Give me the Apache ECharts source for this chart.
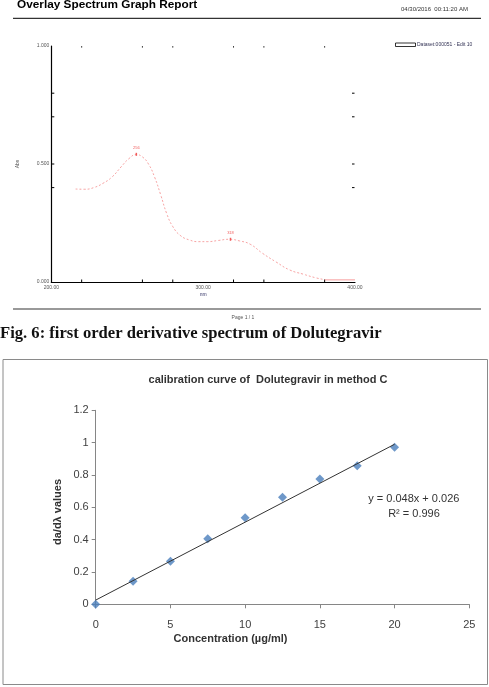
<!DOCTYPE html>
<html>
<head>
<meta charset="utf-8">
<script src="https://cdn.jsdelivr.net/npm/echarts@6/dist/echarts.min.js"></script>
<style>
html, body { margin: 0; padding: 0; background: #fff; }
#main { width: 489px; height: 687px; }
</style>
</head>
<body>
<div id="main"></div>
<script>
// top panel: overlay spectrum
const specNm = [216, 222, 228, 234, 240, 246, 251, 256, 260, 264, 268, 272, 276, 280, 285, 291, 297, 303, 310, 317, 324, 331, 339, 348, 357, 366, 374, 380];
const specAbs = [0.394, 0.393, 0.400, 0.418, 0.445, 0.488, 0.522, 0.540, 0.530, 0.500, 0.445, 0.370, 0.290, 0.235, 0.197, 0.178, 0.171, 0.171, 0.176, 0.181, 0.174, 0.160, 0.122, 0.085, 0.051, 0.033, 0.018, 0.010];
const specTailNm = [380, 400];
const specTailAbs = [0.009, 0.009];
const peakNm = [256, 318];
const peakAbs = [0.541, 0.181];
const specXTicks = [220, 260, 280, 320, 340, 380];
const specYTicks = [0.4, 0.5, 0.7, 0.8];

// bottom panel: calibration curve
const concentration = [0, 2.5, 5, 7.5, 10, 12.5, 15, 17.5, 20];
const response = [0, 0.142, 0.266, 0.406, 0.536, 0.662, 0.775, 0.857, 0.971];
const trendX = [0, 20];
const trendY = [0.026, 0.99];

const chart = echarts.init(document.getElementById('main'));

const small = { fontFamily: 'Liberation Sans', fontSize: 5, color: '#555' };

const option = {
  animation: false,
  backgroundColor: '#fff',
  grid: [
    { left: 51.3, top: 46, width: 303.7, height: 236 },
    { left: 95.7, top: 410.3, width: 373.6, height: 194 }
  ],
  xAxis: [
    {
      gridIndex: 0, type: 'value', min: 200, max: 400, interval: 100,
      name: 'nm', nameLocation: 'middle', nameGap: 10,
      nameTextStyle: { fontFamily: 'Liberation Sans', fontSize: 5, color: '#336' },
      axisLine: { lineStyle: { color: '#000', width: 1.2 } },
      axisTick: { show: false },
      splitLine: { show: false },
      axisLabel: { margin: 3, ...small, formatter: v => v.toFixed(2) }
    },
    {
      gridIndex: 1, type: 'value', min: 0, max: 25, interval: 5,
      axisLine: { lineStyle: { color: '#868686' } },
      axisTick: { length: 4, lineStyle: { color: '#868686' } },
      splitLine: { show: false },
      axisLabel: { margin: 15, fontFamily: 'Liberation Sans', fontSize: 11, color: '#404040' }
    }
  ],
  yAxis: [
    {
      gridIndex: 0, type: 'value', min: 0, max: 1, interval: 0.5,
      name: 'Abs', nameLocation: 'middle', nameGap: 31, nameRotate: 90,
      nameTextStyle: { fontFamily: 'Liberation Sans', fontSize: 5, color: '#555' },
      axisLine: { show: true, lineStyle: { color: '#000', width: 1.2 } },
      axisTick: { show: false },
      splitLine: { show: false },
      axisLabel: { margin: 2, ...small, formatter: v => v.toFixed(3) }
    },
    {
      gridIndex: 1, type: 'value', min: 0, max: 1.2, interval: 0.2,
      axisLine: { show: true, lineStyle: { color: '#868686' } },
      axisTick: { show: true, length: 4, lineStyle: { color: '#868686' } },
      splitLine: { show: false },
      axisLabel: { margin: 7, fontFamily: 'Liberation Sans', fontSize: 11, color: '#404040',
        formatter: v => String(Math.round(v * 10) / 10) }
    }
  ],
  series: [
    {
      type: 'line', xAxisIndex: 0, yAxisIndex: 0, smooth: true, symbol: 'none',
      data: specNm.map((x, i) => [x, specAbs[i]]),
      lineStyle: { color: 'rgba(240,90,90,0.55)', width: 1, type: [2, 2] }
    },
    {
      type: 'line', xAxisIndex: 0, yAxisIndex: 0, symbol: 'none',
      data: specTailNm.map((x, i) => [x, specTailAbs[i]]),
      lineStyle: { color: 'rgba(240,90,90,0.6)', width: 1 }
    },
    {
      type: 'scatter', xAxisIndex: 0, yAxisIndex: 0,
      symbol: 'rect', symbolSize: [1.5, 3],
      itemStyle: { color: '#e33' },
      data: peakNm.map((x, i) => [x, peakAbs[i]]),
      label: { show: true, position: 'top', distance: 3, fontSize: 4, color: '#e33',
        fontFamily: 'Liberation Sans', formatter: p => String(p.value[0]) }
    },
    {
      // small ticks of the report plot frame
      type: 'custom', xAxisIndex: 0, yAxisIndex: 0, silent: true,
      data: specXTicks.map(v => [v, 0]),
      renderItem: (params, api) => {
        const b = api.coord([api.value(0), 0]);
        const t = api.coord([api.value(0), 1]);
        return { type: 'group', children: [
          { type: 'line', shape: { x1: b[0], y1: b[1], x2: b[0], y2: b[1] - 2.5 }, style: { stroke: '#000', lineWidth: 1 } },
          { type: 'rect', shape: { x: t[0] - 0.5, y: t[1] + 0.3, width: 1, height: 1.3 }, style: { fill: '#000' } }
        ] };
      }
    },
    {
      type: 'custom', xAxisIndex: 0, yAxisIndex: 0, silent: true,
      data: specYTicks.map(v => [200, v]),
      renderItem: (params, api) => {
        const l = api.coord([200, api.value(1)]);
        const r = api.coord([400, api.value(1)]);
        return { type: 'group', children: [
          { type: 'line', shape: { x1: l[0], y1: l[1], x2: l[0] + 3, y2: l[1] }, style: { stroke: '#000', lineWidth: 1 } },
          { type: 'line', shape: { x1: r[0] - 3, y1: r[1], x2: r[0] - 0.5, y2: r[1] }, style: { stroke: '#000', lineWidth: 1 } }
        ] };
      }
    },
    {
      type: 'line', xAxisIndex: 1, yAxisIndex: 1, symbol: 'none',
      data: trendX.map((x, i) => [x, trendY[i]]),
      lineStyle: { color: '#333', width: 1 }
    },
    {
      type: 'scatter', xAxisIndex: 1, yAxisIndex: 1,
      symbol: 'diamond', symbolSize: 9,
      itemStyle: { color: '#4a7ebb' },
      data: concentration.map((x, i) => [x, response[i]])
    }
  ],
  graphic: [
    { type: 'text', left: 17, top: -1.5, style: { text: 'Overlay Spectrum Graph Report', font: 'bold 11.8px "Liberation Sans"', fill: '#000' } },
    { type: 'text', left: 401, top: 6, style: { text: '04/30/2016  00:11:20 AM', font: '6px "Liberation Sans"', fill: '#333' } },
    { type: 'line', shape: { x1: 13, y1: 18.3, x2: 481, y2: 18.3 }, style: { stroke: '#000', lineWidth: 1 } },
    { type: 'rect', shape: { x: 395.5, y: 43, width: 20, height: 3.5 }, style: { fill: '#fff', stroke: '#000', lineWidth: 0.8 } },
    { type: 'text', left: 417, top: 42, style: { text: 'Dataset:000051 - Edit 10', font: '5px "Liberation Sans"', fill: '#335' } },
    { type: 'line', shape: { x1: 13, y1: 309, x2: 481, y2: 309 }, style: { stroke: '#777', lineWidth: 1.5 } },
    { type: 'text', x: 243, y: 317.5, style: { text: 'Page 1 / 1', font: '5px "Liberation Sans"', fill: '#555', align: 'center', verticalAlign: 'middle' } },
    { type: 'text', x: 0, y: 334, style: { text: 'Fig. 6: first order derivative spectrum of Dolutegravir', font: 'bold 16.6px "Liberation Serif"', fill: '#111', verticalAlign: 'middle' } },
    { type: 'rect', shape: { x: 3, y: 359.5, width: 484.5, height: 325 }, style: { fill: 'none', stroke: '#8a8a8a', lineWidth: 1 } },
    { type: 'text', x: 268, y: 380, style: { text: 'calibration curve of  Dolutegravir in method C', font: 'bold 11px "Liberation Sans"', fill: '#333', align: 'center', verticalAlign: 'middle' } },
    { type: 'text', x: 413.8, y: 499.3, style: { text: 'y = 0.048x + 0.026', font: '11px "Liberation Sans"', fill: '#333', align: 'center', verticalAlign: 'middle' } },
    { type: 'text', x: 414, y: 514.3, style: { text: 'R² = 0.996', font: '11px "Liberation Sans"', fill: '#333', align: 'center', verticalAlign: 'middle' } },
    { type: 'text', x: 230.5, y: 639, style: { text: 'Concentration (µg/ml)', font: 'bold 11px "Liberation Sans"', fill: '#333', align: 'center', verticalAlign: 'middle' } },
    { type: 'text', x: 58, y: 512, rotation: Math.PI / 2, style: { text: 'da/dλ values', font: 'bold 11px "Liberation Sans"', fill: '#333', align: 'center', verticalAlign: 'middle' } }
  ]
};

chart.setOption(option);
</script>
</body>
</html>
